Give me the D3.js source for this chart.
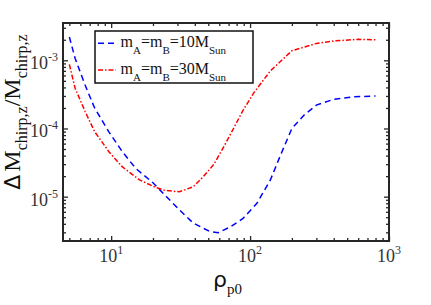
<!DOCTYPE html>
<html>
<head>
<meta charset="utf-8">
<script src="https://cdn.jsdelivr.net/npm/d3@7"></script>
<style>
  body { margin: 0; background: #fff; }
  svg { display: block; }
</style>
</head>
<body>
<script>
var width = 431;
var height = 305;

// data
var rho10 = [5, 5.5, 6.5, 7.6, 9.6, 12, 15, 20, 25, 31, 39, 51, 59, 72, 89, 112, 140, 165, 200, 245, 300, 400, 560, 800];
var dm10 = [2.2e-3, 1.07e-3, 4.3e-4, 2.0e-4, 9.0e-5, 4.6e-5, 2.6e-5, 1.6e-5, 1.0e-5, 6.4e-6, 4.1e-6, 3.1e-6, 2.97e-6, 3.6e-6, 4.8e-6, 8.0e-6, 1.76e-5, 4.0e-5, 1.0e-4, 1.58e-4, 2.2e-4, 2.68e-4, 2.92e-4, 3.0e-4];
var rho30 = [5, 5.5, 6.5, 7.6, 9.6, 12, 16, 21, 24, 28, 31, 39, 46, 55, 64, 76, 89, 106, 140, 200, 300, 400, 600, 800];
var dm30 = [8.7e-4, 3.9e-4, 1.76e-4, 9.0e-5, 4.6e-5, 2.75e-5, 1.76e-5, 1.36e-5, 1.25e-5, 1.2e-5, 1.18e-5, 1.4e-5, 1.96e-5, 3.0e-5, 5.2e-5, 1.0e-4, 1.85e-4, 3.3e-4, 7.0e-4, 1.38e-3, 1.77e-3, 1.92e-3, 2.03e-3, 2.0e-3];

var xMajor = [10, 100, 1000];
var xMajorExp = ["1", "2", "3"];
var yMajor = [1e-5, 1e-4, 1e-3];
var yMajorExp = ["-5", "-4", "-3"];

var legendLabels = [
  { sub1: "A", sub2: "B", mass: "10" },
  { sub1: "A", sub2: "B", mass: "30" }
];

// plot box (avoid window.top clash)
var pl = 63, pr = 389, pt = 23, pb = 241;
var axisColor = "#262626";
var serif = "'Liberation Serif', 'Times New Roman', serif";
var sans = "'DejaVu Sans', sans-serif";

var svg = d3.select("body").append("svg")
  .attr("width", width).attr("height", height);

var x = d3.scaleLog().domain([4.5, 1000]).range([pl, pr]);
var y = d3.scaleLog().domain([Math.pow(10, -5.65), Math.pow(10, -2.453)]).range([pb, pt]);

// minor tick values
var xMinor = [];
[1, 10, 100].forEach(function (d) {
  for (var k = 2; k <= 9; k++) {
    var v = d * k;
    if (v >= 4.5 && v <= 1000 && xMajor.indexOf(v) < 0) xMinor.push(v);
  }
});
var yMinor = [];
[1e-6, 1e-5, 1e-4, 1e-3].forEach(function (d) {
  for (var k = 2; k <= 9; k++) {
    var v = d * k;
    if (v >= y.domain()[0] && v <= y.domain()[1]) yMinor.push(v);
  }
});

function drawAxis(axis, tx, ty) {
  var g = svg.append("g").attr("transform", "translate(" + tx + "," + ty + ")").call(axis);
  g.select(".domain").remove();
  g.selectAll("line").attr("stroke", axisColor).attr("stroke-width", 1.3);
}

drawAxis(d3.axisBottom(x).tickValues(xMajor).tickSize(-5).tickFormat(""), 0, pb);
drawAxis(d3.axisBottom(x).tickValues(xMinor).tickSize(-3).tickFormat(""), 0, pb);
drawAxis(d3.axisTop(x).tickValues(xMajor).tickSize(-5).tickFormat(""), 0, pt);
drawAxis(d3.axisTop(x).tickValues(xMinor).tickSize(-3).tickFormat(""), 0, pt);
drawAxis(d3.axisLeft(y).tickValues(yMajor).tickSize(-5).tickFormat(""), pl, 0);
drawAxis(d3.axisLeft(y).tickValues(yMinor).tickSize(-3).tickFormat(""), pl, 0);
drawAxis(d3.axisRight(y).tickValues(yMajor).tickSize(-5).tickFormat(""), pr, 0);
drawAxis(d3.axisRight(y).tickValues(yMinor).tickSize(-3).tickFormat(""), pr, 0);

// curves
var line = d3.line()
  .x(function (d) { return x(d[0]); })
  .y(function (d) { return y(d[1]); });

svg.append("path")
  .datum(rho10.map(function (r, i) { return [r, dm10[i]]; }))
  .attr("d", line)
  .attr("fill", "none").attr("stroke", "#0000ff")
  .attr("stroke-width", 1.5).attr("stroke-dasharray", "6,4");

svg.append("path")
  .datum(rho30.map(function (r, i) { return [r, dm30[i]]; }))
  .attr("d", line)
  .attr("fill", "none").attr("stroke", "#ff0000")
  .attr("stroke-width", 1.5).attr("stroke-dasharray", "5,2,1.5,2");

// frame
svg.append("rect")
  .attr("x", pl).attr("y", pt)
  .attr("width", pr - pl).attr("height", pb - pt)
  .attr("fill", "none").attr("stroke", axisColor).attr("stroke-width", 2);

// tick labels
xMajor.forEach(function (v, i) {
  var t = svg.append("text")
    .attr("x", x(v)).attr("y", 262)
    .attr("text-anchor", "middle")
    .attr("font-family", serif).attr("font-size", 18).attr("fill", "#333");
  t.append("tspan").text("10");
  t.append("tspan").attr("dy", -8).attr("font-size", 12).text(xMajorExp[i]);
});

yMajor.forEach(function (v, i) {
  var t = svg.append("text")
    .attr("x", 58).attr("y", y(v) + 9)
    .attr("text-anchor", "end")
    .attr("font-family", serif).attr("font-size", 18).attr("fill", "#333");
  t.append("tspan").text("10");
  t.append("tspan").attr("dy", -8).attr("font-size", 12).text(yMajorExp[i]);
});

// axis titles
var xl = svg.append("text")
  .attr("x", 213).attr("y", 287)
  .attr("fill", "#111");
xl.append("tspan").attr("font-family", sans).attr("font-size", 22).text("ρ");
xl.append("tspan").attr("font-family", serif).attr("font-size", 15).attr("dy", 7).text("p0");

var yl = svg.append("text")
  .attr("transform", "translate(20,112) rotate(-90)")
  .attr("text-anchor", "middle")
  .attr("fill", "#111").attr("font-family", serif);
yl.append("tspan").attr("font-family", sans).attr("font-size", 22).text("Δ");
yl.append("tspan").attr("font-size", 24).attr("dx", 3).text("M");
yl.append("tspan").attr("font-size", 16).attr("dy", 7).text("chirp,z");
yl.append("tspan").attr("font-size", 24).attr("dy", -7).text("/M");
yl.append("tspan").attr("font-size", 16).attr("dy", 7).text("chirp,z");

// legend
var lg = svg.append("g");
lg.append("rect")
  .attr("x", 95).attr("y", 31).attr("width", 158).attr("height", 52)
  .attr("fill", "#fff").attr("stroke", "#111").attr("stroke-width", 1.5);

var legendY = [43.3, 70];
var legendStyle = [
  { color: "#0000ff", dash: "6,4" },
  { color: "#ff0000", dash: "5,2,1.5,2" }
];
legendLabels.forEach(function (d, i) {
  lg.append("line")
    .attr("x1", 98).attr("x2", 116)
    .attr("y1", legendY[i]).attr("y2", legendY[i])
    .attr("stroke", legendStyle[i].color).attr("stroke-width", 1.5)
    .attr("stroke-dasharray", legendStyle[i].dash);
  var t = lg.append("text")
    .attr("x", 120.5).attr("y", legendY[i] + 4)
    .attr("font-family", serif).attr("font-size", 16).attr("fill", "#111");
  t.append("tspan").text("m");
  t.append("tspan").attr("font-size", 11).attr("dy", 7).text(d.sub1);
  t.append("tspan").attr("dy", -7).text("=m");
  t.append("tspan").attr("font-size", 11).attr("dy", 7).text(d.sub2);
  t.append("tspan").attr("dy", -7).text("=" + d.mass + "M");
  t.append("tspan").attr("font-size", 11).attr("dy", 7).text("Sun");
});
</script>
</body>
</html>
